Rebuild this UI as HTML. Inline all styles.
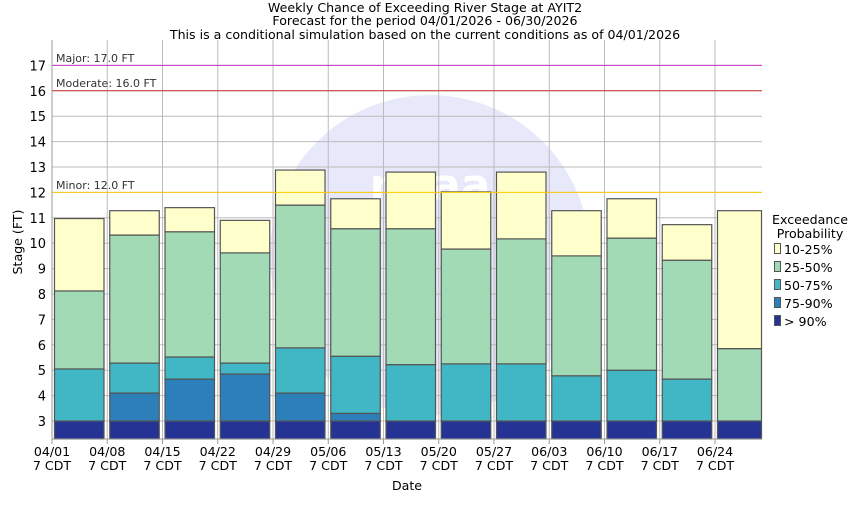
<!DOCTYPE html>
<html><head><meta charset="utf-8"><style>
body{margin:0;background:#fff}
svg text{font-family:"DejaVu Sans","Liberation Sans",sans-serif;fill:#000}
</style></head><body>
<svg id="s" width="850" height="500" xmlns="http://www.w3.org/2000/svg">
<rect width="850" height="500" fill="#fff"/>
<defs><clipPath id="pc"><rect x="52" y="40" width="710" height="399"/></clipPath></defs>
<g clip-path="url(#pc)">
<circle cx="430" cy="255" r="160" fill="#e8e8fb"/>
<text x="430" y="200" text-anchor="middle" font-size="44" font-weight="bold" style="fill:#fff">noaa</text>
</g>
<g id="grid"></g>
<g id="bars"></g>
<line x1="52" y1="65.4" x2="762" y2="65.4" stroke="#cc33cc" stroke-width="1"/>
<line x1="52" y1="90.8" x2="762" y2="90.8" stroke="#cc3333" stroke-width="1"/>
<line x1="52" y1="192.4" x2="762" y2="192.4" stroke="#ffcc00" stroke-width="1"/>
<text x="56" y="62" font-size="11" style="fill:#333">Major: 17.0 FT</text>
<text x="56" y="87" font-size="11" style="fill:#333">Moderate: 16.0 FT</text>
<text x="56" y="189" font-size="11" style="fill:#333">Minor: 12.0 FT</text>
<line x1="52" y1="40" x2="52" y2="439" stroke="#999"/>
<line x1="52" y1="439" x2="762" y2="439" stroke="#999"/>
<g font-size="12.6" text-anchor="middle">
<text x="425" y="12">Weekly Chance of Exceeding River Stage at AYIT2</text>
<text x="425" y="25">Forecast for the period 04/01/2026 - 06/30/2026</text>
<text x="425" y="39">This is a conditional simulation based on the current conditions as of 04/01/2026</text>
<text x="407" y="490">Date</text>
</g>
<text transform="translate(22,242) rotate(-90)" font-size="12.6" text-anchor="middle">Stage (FT)</text>
<g id="yl" font-size="13" text-anchor="end"></g>
<g id="xl" font-size="12.6" text-anchor="middle"></g>
<g font-size="12.6">
<text x="810" y="224" text-anchor="middle">Exceedance</text>
<text x="810" y="238" text-anchor="middle">Probability</text>
<rect x="774.5" y="243.5" width="6" height="10" fill="#ffffcc" stroke="#555"/><text x="784" y="254">10-25%</text>
<rect x="774.5" y="261.5" width="6" height="10" fill="#a1dab4" stroke="#555"/><text x="784" y="272">25-50%</text>
<rect x="774.5" y="279.5" width="6" height="10" fill="#41b6c4" stroke="#555"/><text x="784" y="290">50-75%</text>
<rect x="774.5" y="297.5" width="6" height="10" fill="#2c7fb8" stroke="#555"/><text x="784" y="308">75-90%</text>
<rect x="774.5" y="315.5" width="6" height="10" fill="#253494" stroke="#555"/><text x="784" y="326">&gt; 90%</text>
</g>
</svg>
<script>
var NS="http://www.w3.org/2000/svg";
function el(p,t,a,txt){var e=document.createElementNS(NS,t);for(var k in a)e.setAttribute(k,a[k]);if(txt)e.textContent=txt;document.getElementById(p).appendChild(e);return e;}
function Y(v){return 421-(v-3)*25.4;}
for(var v=3;v<=17;v++){var y=Y(v);el("grid","line",{x1:52,x2:762,y1:y,y2:y,stroke:"#bbb"});el("yl","text",{x:46,y:y+5},""+v);}
var labs=["04/01","04/08","04/15","04/22","04/29","05/06","05/13","05/20","05/27","06/03","06/10","06/17","06/24"];
for(var i=0;i<13;i++){var x=52+55.25*i;el("grid","line",{x1:x,x2:x,y1:40,y2:439,stroke:"#bbb"});el("grid","line",{x1:x,x2:x,y1:439,y2:444,stroke:"#999"});
el("xl","text",{x:x,y:456},labs[i]);el("xl","text",{x:x,y:470},"7 CDT");}
var d=[[3,3,5.05,8.12,10.97],[3,4.1,5.28,10.32,11.28],[3,4.65,5.52,10.45,11.4],[3,4.85,5.28,9.62,10.9],[3,4.1,5.88,11.5,12.88],[3,3.3,5.55,10.57,11.75],[3,3,5.22,10.57,12.8],[3,3,5.25,9.77,12.02],[3,3,5.25,10.17,12.8],[3,3,4.78,9.5,11.28],[3,3,5.0,10.2,11.75],[3,3,4.65,9.33,10.73],[3,3,3,5.85,11.28]];
var cols=["#253494","#2c7fb8","#41b6c4","#a1dab4","#ffffcc"];
for(var i=0;i<13;i++){var x=52+55.25*i+2.5,w=Math.min(49.5,761.5-x);var prev=439;
for(var j=0;j<5;j++){var t=Y(d[i][j]);if(prev-t>0.1)el("bars","rect",{x:x,y:t,width:w,height:prev-t,fill:cols[j],stroke:"#555","stroke-width":1.2});prev=t;}}
</script>
</body></html>
